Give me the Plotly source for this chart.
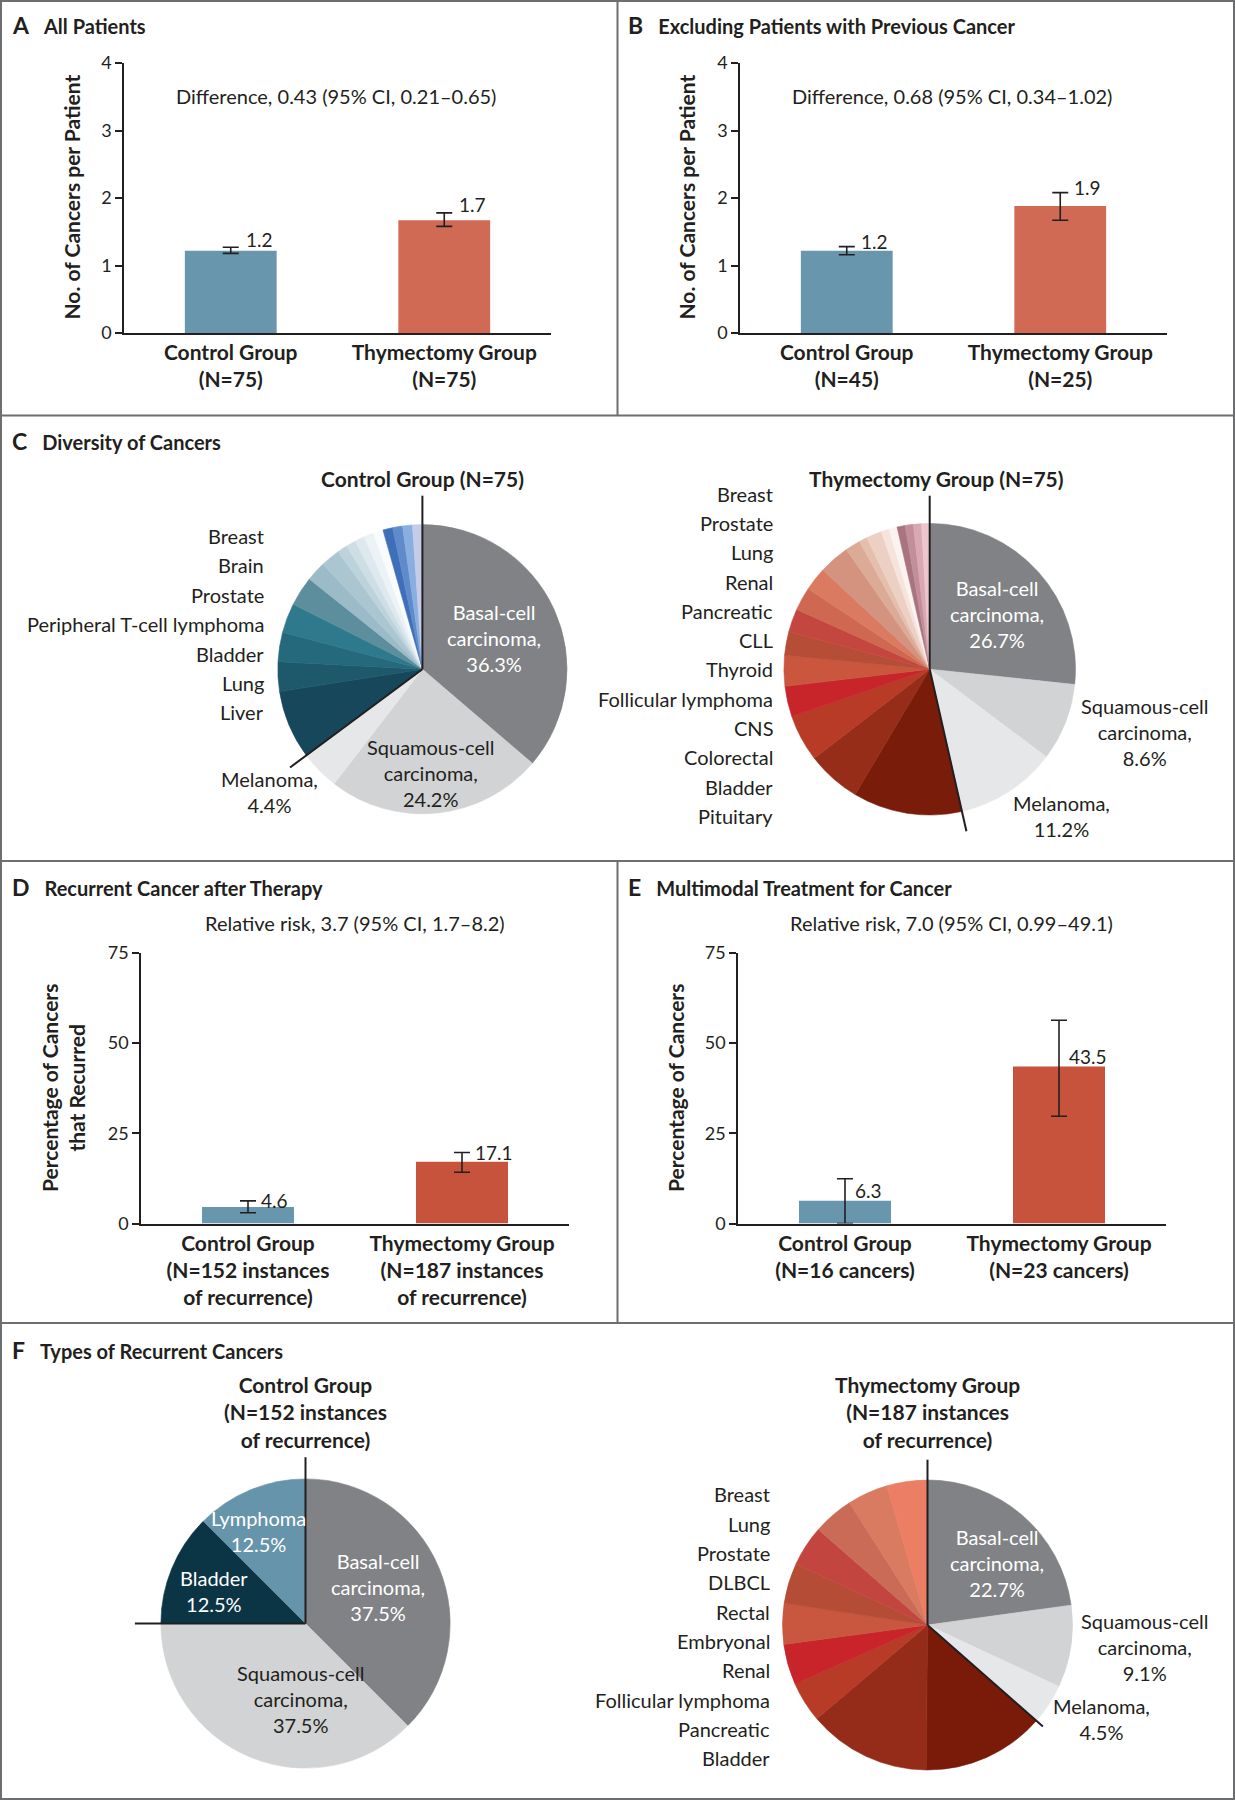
import math
import plotly.graph_objects as go

W, H = 1235, 1800
FONT = 'Lato'
INK = '#231f20'
RULE = '#6d6e70'

groups = ['Control Group', 'Thymectomy Group']

# A: all patients, cancers per patient
a_mean = [1.22, 1.67]
a_low = [1.18, 1.58]
a_high = [1.27, 1.78]
a_n = ['(N=75)', '(N=75)']

# B: excluding patients with previous cancer
b_mean = [1.22, 1.88]
b_low = [1.16, 1.67]
b_high = [1.28, 2.08]
b_n = ['(N=45)', '(N=25)']

# D: recurrence after therapy (%)
d_mean = [4.6, 17.1]
d_low = [3.0, 14.2]
d_high = [6.3, 19.7]
d_n = ['(N=152 instances<br>of recurrence)', '(N=187 instances<br>of recurrence)']

# E: multimodal treatment (%)
e_mean = [6.3, 43.5]
e_low = [0.0, 29.7]
e_high = [12.4, 56.3]
e_n = ['(N=16 cancers)', '(N=23 cancers)']

# C: diversity of cancers
c_ctrl_names = ['Basal-cell carcinoma', 'Squamous-cell carcinoma', 'Melanoma',
                'Liver', 'Lung', 'Bladder', 'Peripheral T-cell lymphoma', 'Prostate',
                'Brain', 'Breast'] + ['Other %d' % i for i in range(1, 10)]
c_ctrl_pct = [36.3, 24.2, 4.4, 7.7, 3.3, 3.3, 3.3, 3.3, 2.2, 2.2,
              1.1, 1.1, 1.1, 1.1, 1.1, 1.1, 1.1, 1.1, 1.1]
c_ctrl_colors = ['#808285', '#d1d3d4', '#e6e7e8',
                 '#17475a', '#1d596b', '#24697c', '#2e798c', '#5d8e9e', '#9bbbc8', '#abc6d1',
                 '#bdd3dc', '#cedee5', '#dde9ee', '#ecf3f6', '#f9fbfc',
                 '#3f6fba', '#5f8bca', '#89aee0', '#c4cce9']

c_thym_names = ['Basal-cell carcinoma', 'Squamous-cell carcinoma', 'Melanoma',
                'Pituitary', 'Bladder', 'Colorectal', 'CNS', 'Follicular lymphoma', 'Thyroid',
                'CLL', 'Pancreatic', 'Renal', 'Lung', 'Prostate', 'Breast'] + ['Other %d' % i for i in range(1, 8)]
c_thym_pct = [26.7, 8.6, 11.2, 12.1, 6.0, 5.2, 3.4, 3.4, 2.6, 2.6, 2.6, 2.6, 3.4, 1.7,
              0.9, 1.7, 0.9, 0.9, 0.9, 0.9, 0.9, 0.9]
c_thym_colors = ['#808285', '#d1d3d4', '#e6e7e8',
                 '#7a1c0a', '#962d19', '#b83b27', '#c8252a', '#c9563d', '#b64d36', '#c4473f',
                 '#cf6850', '#da7b61', '#d3937f', '#dcab98', '#e5bfae', '#ecd0c4', '#f5e3dc',
                 '#fbf3ef', '#a97480', '#c28e98', '#d9a8b0', '#ecc6cc']

# F: types of recurrent cancers
f_ctrl_names = ['Basal-cell carcinoma', 'Squamous-cell carcinoma', 'Bladder', 'Lymphoma']
f_ctrl_pct = [37.5, 37.5, 12.5, 12.5]
f_ctrl_colors = ['#808285', '#d1d3d4', '#0b3444', '#6694aa']

f_thym_names = ['Basal-cell carcinoma', 'Squamous-cell carcinoma', 'Melanoma',
                'Bladder', 'Pancreatic', 'Follicular lymphoma', 'Renal', 'Embryonal',
                'Rectal', 'DLBCL', 'Prostate', 'Lung', 'Breast']
f_thym_pct = [22.7, 9.1, 4.5, 13.6, 13.6, 4.5, 4.5, 4.5, 4.5, 4.5, 4.5, 4.5, 4.5]
f_thym_colors = ['#808285', '#d1d3d4', '#e6e7e8',
                 '#7a1b0a', '#952c19', '#b73b27', '#c8242a', '#c9563e', '#b54c36',
                 '#c3453f', '#ca6b57', '#d97b61', '#ec7e63']


def px(x, y):
    return x / W, 1 - y / H


fig = go.Figure()
annotations = []
shapes = []


def note(x, y, text, size=20, bold=False, color=INK, **kw):
    xp, yp = px(x, y)
    if bold:
        text = '<b>' + text + '</b>'
    d = dict(x=xp, y=yp, xref='paper', yref='paper', text=text, showarrow=False,
             xanchor='center', yanchor='middle',
             font=dict(family=FONT, size=size, color=color))
    d.update(kw)
    annotations.append(d)


def bar_panel(k, mean, low, high, ns, xpx, ypx, yrange, dtick, colors, label_at, label_shift, label_gap):
    fig.add_trace(go.Bar(
        x=[0, 1], y=mean, width=0.43,
        marker=dict(color=colors, line_width=0),
        error_y=dict(type='data', symmetric=False,
                     array=[h - m for h, m in zip(high, mean)],
                     arrayminus=[m - l for m, l in zip(mean, low)],
                     color=INK, thickness=1.6, width=8),
        xaxis='x%d' % k, yaxis='y%d' % k, showlegend=False))
    ax = '' if k == 1 else str(k)
    fig.layout['xaxis' + ax] = dict(
        domain=[xpx[0] / W, xpx[1] / W], range=[-0.5, 1.5], anchor='y' + ax,
        tickvals=[0, 1], ticktext=['<b>%s<br>%s</b>' % (g, n) for g, n in zip(groups, ns)],
        showline=True, linecolor=INK, linewidth=1.6, ticks='', showgrid=False, zeroline=False,
        tickfont=dict(family=FONT, size=21, color=INK), fixedrange=True)
    fig.layout['yaxis' + ax] = dict(
        domain=[1 - ypx[1] / H, 1 - ypx[0] / H], range=yrange, dtick=dtick, anchor='x' + ax,
        showline=True, linecolor=INK, linewidth=1.6, ticks='outside', ticklen=7, tickwidth=1.6,
        tickcolor=INK, showgrid=False, zeroline=False,
        tickfont=dict(family=FONT, size=18, color=INK), fixedrange=True)
    ys = high if label_at == 'high' else mean
    for i, (m, y) in enumerate(zip(mean, ys)):
        annotations.append(dict(x=i, y=y, xref='x' + ax, yref='y' + ax, text='%.1f' % m,
                                showarrow=False, xanchor='left', yanchor='middle', xshift=label_gap,
                                yshift=label_shift, font=dict(family=FONT, size=19, color=INK)))


blue, red, red2 = '#6897ad', '#d06a55', '#c8533c'
bar_panel(1, a_mean, a_low, a_high, a_n, (124, 551), (63, 333), [0, 4], 1, [blue, red], 'high', 8, 13)
bar_panel(2, b_mean, b_low, b_high, b_n, (740, 1167), (63, 333), [0, 4], 1, [blue, red], 'high', 5, 12)
bar_panel(3, d_mean, d_low, d_high, d_n, (141, 569), (952.7, 1223.6), [0, 75], 25, [blue, red2], 'high', 0, 11)
bar_panel(4, e_mean, e_low, e_high, e_n, (738, 1166), (952.7, 1223.6), [0, 75], 25, [blue, red2], 'mean', 10, 8)


def pie_panel(names, pct, colors, cx, cy, r, split, up_len, split_len):
    fig.add_trace(go.Pie(
        labels=names, values=pct, sort=False, direction='clockwise', rotation=0,
        marker=dict(colors=colors, line=dict(color=colors, width=0.6)),
        textinfo='none', hoverinfo='label+percent', showlegend=False,
        domain=dict(x=[(cx - r) / W, (cx + r) / W], y=[1 - (cy + r) / H, 1 - (cy - r) / H])))
    theta = 2 * math.pi * sum(pct[:split]) / sum(pct)
    for ang, ln in ((0, up_len), (theta, split_len)):
        x0, y0 = px(cx, cy)
        x1, y1 = px(cx + ln * r * math.sin(ang), cy - ln * r * math.cos(ang))
        shapes.append(dict(type='line', xref='paper', yref='paper', x0=x0, y0=y0, x1=x1, y1=y1,
                           line=dict(color=INK, width=2)))


def side_labels(items, x, y0, step):
    for i, t in enumerate(items):
        note(x, y0 + i * step, t, xanchor='right')


pie_panel(c_ctrl_names, c_ctrl_pct, c_ctrl_colors, 422.4, 669.2, 144.6, 3, 1.2, 1.14)
pie_panel(c_thym_names, c_thym_pct, c_thym_colors, 929.7, 669.2, 145.8, 3, 1.19, 1.14)
pie_panel(f_ctrl_names, f_ctrl_pct, f_ctrl_colors, 305.5, 1623.5, 144.6, 2, 1.15, 1.18)
pie_panel(f_thym_names, f_thym_pct, f_thym_colors, 927.5, 1625, 145, 3, 1.14, 1.06)

side_labels(c_ctrl_names[3:10][::-1], 266, 536, 29.4)
side_labels(c_thym_names[3:15][::-1], 774.5, 493.6, 29.3)
side_labels(f_thym_names[3:][::-1], 772, 1494.4, 29.3)

# panel headings
for x, y, letter, title in [(10, 25, 'A', 'All Patients'),
                            (626, 25, 'B', 'Excluding Patients with Previous Cancer'),
                            (10, 441, 'C', 'Diversity of Cancers'),
                            (10, 887, 'D', 'Recurrent Cancer after Therapy'),
                            (626, 887, 'E', 'Multimodal Treatment for Cancer'),
                            (10, 1350, 'F', 'Types of Recurrent Cancers')]:
    note(x, y, '<span style="font-size:23px">%s</span>\u2003%s' % (letter, title), size=20,
         bold=True, xanchor='left')

note(336, 96.4, 'Difference, 0.43 (95% CI, 0.21\u20130.65)')
note(951.5, 96.4, 'Difference, 0.68 (95% CI, 0.34\u20131.02)')
note(354.7, 922.8, 'Relative risk, 3.7 (95% CI, 1.7\u20138.2)')
note(951.5, 922.8, 'Relative risk, 7.0 (95% CI, 0.99\u201349.1)')

note(71, 197.5, 'No. of Cancers per Patient', size=21, bold=True, textangle=-90)
note(686, 197.5, 'No. of Cancers per Patient', size=21, bold=True, textangle=-90)
note(63, 1088, 'Percentage of Cancers<br>that Recurred', size=21, bold=True, textangle=-90)
note(675, 1088, 'Percentage of Cancers', size=21, bold=True, textangle=-90)

# pie headings and slice labels
note(422.4, 478.6, 'Control Group (N=75)', size=21, bold=True)
note(936.6, 478.6, 'Thymectomy Group (N=75)', size=21, bold=True)
note(305.3, 1411.8, 'Control Group<br>(N=152 instances<br>of recurrence)', size=21, bold=True)
note(927.4, 1411.8, 'Thymectomy Group<br>(N=187 instances<br>of recurrence)', size=21, bold=True)

note(493.6, 638.2, 'Basal-cell<br>carcinoma,<br>36.3%', color='white')
note(430.4, 772.5, 'Squamous-cell<br>carcinoma,<br>24.2%')
note(269.7, 792, 'Melanoma,<br>4.4%')
note(997.4, 614, 'Basal-cell<br>carcinoma,<br>26.7%', color='white')
note(1144.4, 732.3, 'Squamous-cell<br>carcinoma,<br>8.6%')
note(1061.7, 816, 'Melanoma,<br>11.2%')

note(377.6, 1587.4, 'Basal-cell<br>carcinoma,<br>37.5%', color='white')
note(300.7, 1698.7, 'Squamous-cell<br>carcinoma,<br>37.5%')
note(213.5, 1590.9, 'Bladder<br>12.5%', color='white')
note(258.3, 1531.2, 'Lymphoma<br>12.5%', color='white')
note(997.4, 1563.3, 'Basal-cell<br>carcinoma,<br>22.7%', color='white')
note(1144.4, 1647, 'Squamous-cell<br>carcinoma,<br>9.1%')
note(1101.9, 1719.4, 'Melanoma,<br>4.5%')

# frame and panel rules
rule = dict(color=RULE, width=2)
shapes.append(dict(type='rect', xref='paper', yref='paper', x0=1 / W, y0=1 / H, x1=1 - 1 / W, y1=1 - 1 / H, line=rule))
for y in (415.5, 861, 1323):
    shapes.append(dict(type='line', xref='paper', yref='paper', x0=0, x1=1, y0=1 - y / H, y1=1 - y / H, line=rule))
for y0, y1 in ((0, 415.5), (861, 1323)):
    shapes.append(dict(type='line', xref='paper', yref='paper', x0=617.5 / W, x1=617.5 / W,
                       y0=1 - y0 / H, y1=1 - y1 / H, line=rule))

fig.update_layout(width=W, height=H, margin=dict(l=0, r=0, t=0, b=0, pad=0, autoexpand=False),
                  paper_bgcolor='white', plot_bgcolor='white',
                  font=dict(family=FONT, color=INK),
                  annotations=annotations, shapes=shapes, showlegend=False)

fig.write_html('out.html', config={'displayModeBar': False},
               post_script="document.body.style.margin='0';document.body.style.overflow='hidden';")
